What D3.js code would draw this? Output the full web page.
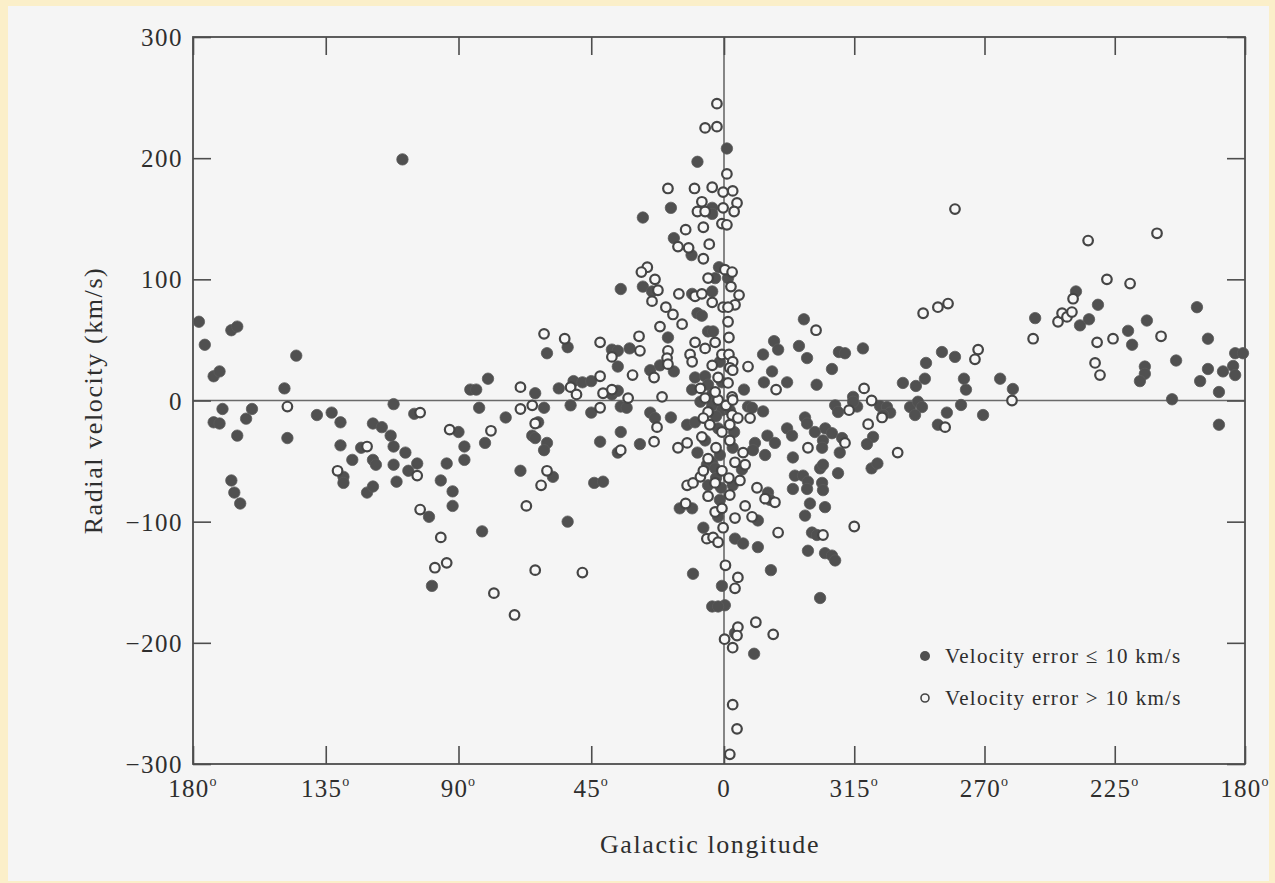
<!DOCTYPE html>
<html lang="en">
<head>
<meta charset="UTF-8">
<title>Radial velocity vs galactic longitude</title>
<script src="https://d3js.org/d3.v7.min.js"></script>
<style>
  body { margin: 0; background: #fbefc9; }
  svg { display: block; }
</style>
</head>
<body>
<svg></svg>
<script>
// longitude in degrees, negatives are 360 - l (right half of the plot)
const lonTicks = [180, 135, 90, 45, 0, -45, -90, -135, -180];
const lonLabels = ["180", "135", "90", "45", "0", "315", "270", "225", "180"];
const velTicks = [300, 200, 100, 0, -100, -200, -300];

// velocity error <= 10 km/s  [longitude, velocity]
const solid = [
  [178,65],[167,58],[165,61],[176,46],[173,20],[171,24],[145,37],[149,10],[170,-7],[160,-7],[173,-18],[171,-19],
  [162,-15],[165,-29],[148,-31],[138,-12],[133,-10],[130,-18],[112,-3],[105,-11],[119,-19],[116,-22],[113,-29],
  [130,-37],[123,-39],[126,-49],[119,-49],[118,-53],[112,-38],[112,-53],[108,-43],[107,-58],[104,-52],[111,-67],
  [129,-63],[129,-68],[121,-76],[119,-71],[167,-66],[166,-76],[164,-85],[90,-26],[94,-52],[96,-66],[92,-75],
  [92,-87],[100,-96],[99,-153],[109,199],
  [35,92],[53,44],[38,42],[60,39],[36,28],[80,18],[86,9],[84,9],[64,6],[56,10],[51,16],[48,15],[45,16],[38,5],
  [83,-6],[61,-6],[52,-4],[45,-10],[35,-5],[74,-14],[63,-18],[65,-29],[64,-31],[60,-35],[61,-41],[81,-35],
  [88,-38],[88,-49],[42,-34],[35,-26],[36,-43],[69,-58],[58,-63],[44,-68],[41,-67],[82,-108],[53,-100],
  [-1,208],[9,197],[18,159],[4,159],[4,154],[27.5,151],[17,134],[11,120],[1.7,110],[27.5,94],[24.4,90],
  [10.8,88],[3,101],[4,90],[9,72],[7.5,70],[19,52],[5.4,57],[3.7,57],[32,43],[36,41],[25,25],[21.7,29],
  [17,24],[9.8,19],[6.4,20],[1.4,32],[36,8],
  [-1.4,101],[-27.6,67],[-17.3,49],[-18.7,42],[-25.9,45],[-13.5,38],[-28.7,35],[-39.7,40],[-16.6,24],
  [-13.8,15],[-21.8,15],[-32,13],[-37.3,26],[-6.9,9],
  [8,-1],[4,-4],[0.7,-8],[2.7,-13],[12.5,-20],[9.8,-18],[-2,-8],[-8.3,-5],[-9.7,-6],[-13.5,-9],[-28,-14],
  [-28.7,-19],[-38.4,-4],[-39.4,-9.5],[-15,-29],[-17.6,-35],[-21.8,-23],[-23.5,-29],[-31.4,-26],[-35,-23],
  [-37.3,-27],[-34.2,-33],[-33.9,-39],[-40.8,-31],[-40,-43],[-10.7,-35],[-10,-41],[-14.2,-45],[-23.8,-47],
  [-33.2,-56],[-34.2,-53],[-39.4,-60],[-24.5,-62],[-27.3,-62],[-29,-67],[-23.8,-73],[-28.7,-73],[-33.9,-68],
  [-34.2,-74],[-15.2,-76],[-15.9,-82],[-11.7,-99],[-29.7,-85],[-34.9,-88],[-28,-95],[-30.4,-109],[-32.1,-111],
  [-3.8,-114],[-6.6,-118],[-11.7,-121],[-29,-124],[-34.9,-126],[-37.3,-128],[-38.4,-132],[-16.2,-140],
  [-33.2,-163],[-0.3,-169],[-3.8,-192],[-10.4,-209],
  [33,-6],[25,-10],[23.4,-14.5],[18,-14],[28.5,-36],[9,-43],[5.8,-53],[4,-51],[3,-56],[5.4,-70],[1,-72],
  [15,-89],[10.8,-89],[2,-96],[7,-105],[10.5,-143],[0.7,-153],[4,-170],[2,-170],
  [10.8,9],[5.4,13],[0.7,15],[4,5],[2,-23],[6.4,-33],[1.4,-45],[2.7,-64],[1.4,-82],[-3.5,-26],[-3,-39],
  [-3,-70],[-6.2,-57],
  [-107.5,68],[-41.8,39],[-48,43],[-75.3,40],[-79.8,36],[-69.8,31],[-61.8,14.5],[-66.3,12],[-69.4,18],
  [-82.9,18],[-83.6,9],[-95.4,18],[-99.8,9.5],[-44.6,3],[-46,-5],[-44.6,-1],[-53.9,-4.6],[-56.3,-5.4],
  [-57.4,-10],[-55,-12],[-64.3,-5.4],[-67,-1],[-68.4,-5.4],[-66,-12],[-81.9,-3.7],[-77,-10],[-89.5,-12],
  [-73.9,-20],[-51.5,-30],[-49.4,-36],[-51,-56],[-53,-52],
  [-121.6,90],[-129.2,79],[-123,62],[-126.1,67],[-163.4,77],[-146.1,66],[-139.6,57.5],[-141,46],[-167.2,51],
  [-145.4,28],[-145.4,22],[-143.7,16],[-156.2,33],[-167.2,26],[-164.5,16],[-172.4,24],[-176.6,39],
  [-179.3,39],[-175.9,28.5],[-176.6,21],[-171,7],[-154.8,1],[-171,-20]
];

// velocity error > 10 km/s
const hollow = [
  [148,-5],[103,-10],[121,-38],[104,-62],[131,-58],[93,-24],[103,-90],[96,-113],[98,-138],[94,-134],
  [61,55],[54,51],[42,48],[38,36],[69,11],[52,11],[42,20],[50,5],[41,6],[38,9],[69,-7],[65,-4],[42,-6],
  [79,-25],[64,-19],[35,-41],[60,-58],[62,-70],[67,-87],[64,-140],[48,-142],[78,-159],[71,-177],
  [2.4,245],[6.4,225],[2.4,226],[-1,187],[19,175],[10,175],[4,176],[0.3,172],[7.5,164],[9,156],[6.4,156],
  [0.3,159],[0.7,146],[13,141],[7,143],[15.6,127],[12,126],[5,129],[7,117],[26,110],[28,106],[-0.3,108],
  [23.4,100],[22.4,91],[24.4,82],[15.3,88],[9.8,86],[7.5,88],[5.4,101],[4,81],[0.3,77],[19.7,77],[17.3,71],
  [14.2,63],[21.7,61],[28.8,53],[9.8,48],[6.4,43],[28.5,41],[19,41],[19.3,35],[3,48],[31,21],[23.7,19],
  [19,30],[11.5,38],[10.8,32],[4,29],[0.7,38],[32.5,2],[21,3],
  [-3,173],[-4.5,163],[-3.5,156],[-1,145],[-2.8,106],[-2.4,94],[-5.2,87],[-3.8,79],[-1.4,77],[-1.4,65],
  [-1.7,52],[-31.8,58],[-1.7,38],[-3,32],[-2,27],[-3,25],[-8.3,28],[-18,9],[-1.4,14.5],[-2.8,3],
  [6.4,2],[2,0.4],[5.4,-9.5],[7,-14.5],[-0.7,-4],[-3,0.4],[-2.8,-12],[-4.8,-14.5],[-9,-14.5],[-29,-39],
  [-6.6,-43],[-7.3,-53],[-3.8,-51],[-11.4,-72],[-17.6,-84],[-14.2,-81],[-7.3,-87],[-9.7,-96],[-3.8,-97],
  [-18.7,-109],[-34.2,-111],[-4.8,-146],[-3.8,-155],[-0.5,-136],[-11,-183],[-4.8,-187],[-4.5,-194],
  [-17,-193],[-3,-204],[-3,-251],[-4.5,-271],[-2,-292],
  [22.7,-22],[23.7,-34],[15.6,-39],[12.5,-35],[7.5,-30],[12.5,-70],[10.5,-68],[8,-63],[3,-68],[13,-85],
  [3,-92],[0.7,-89],[5.8,-114],[3.7,-113],[2,-117],[0.3,-105],[-0.2,-197],
  [8,10],[3,7],[2,19],[4.8,-20],[0.7,-26],[2.7,-39],[5.4,-48],[0.7,-58],[5.4,-79],[7,-58],[-2,-20],
  [-2,-33],[-1.7,-64],[-2,-78],[-5.5,-66],
  [-68.8,72],[-73.9,77],[-77.4,80],[-79.8,158],[-115.4,65],[-106.8,51],[-87.8,42],[-86.7,34],[-48.4,10],
  [-51,0],[-43.2,-8],[-54.6,-14],[-99.5,0],[-76.4,-22],[-49.8,-19.5],[-41.8,-35],[-60,-43],[-45,-104],
  [-125.8,132],[-149.6,138],[-132.3,100],[-140.3,96.5],[-120.6,84],[-116.8,72],[-118.5,69],[-120.2,73],
  [-151,53],[-134.4,51],[-128.9,48],[-128.2,31],[-129.9,21]
];

const W = 1275, H = 883;
const ink = "#4d4d4d";
const textInk = "#2e2e2e";
const font = "'Liberation Serif', 'DejaVu Serif', serif";

const svg = d3.select("svg").attr("width", W).attr("height", H)
  .style("font-family", font);

// scanned page: cream edge, grey paper
svg.append("rect").attr("width", W).attr("height", H).attr("fill", "#fbefc9");
svg.append("rect").attr("x", 8).attr("y", 6).attr("width", W - 14).attr("height", H - 8)
  .attr("fill", "#f5f5f5");

const x = d3.scaleLinear().domain([180, 0, -180]).range([193, 724, 1245]);
const y = d3.scaleLinear().domain([-300, 300]).range([764, 37]);

const g = svg.append("g");

// zero lines
g.append("line").attr("x1", x(180)).attr("x2", x(-180)).attr("y1", y(0)).attr("y2", y(0))
  .attr("stroke", "#6a6a6a").attr("stroke-width", 1.6);
g.append("line").attr("x1", x(0)).attr("x2", x(0)).attr("y1", y(300)).attr("y2", y(-300))
  .attr("stroke", "#6a6a6a").attr("stroke-width", 1.6);

// axes, ticks pointing inward
const tk = 18;
const yLeft = g.append("g").attr("transform", `translate(${x(180)},0)`)
  .call(d3.axisLeft(y).tickValues(velTicks).tickSize(-tk).tickPadding(10)
    .tickFormat(d => d < 0 ? "\u2212" + Math.abs(d) : d));
const yRight = g.append("g").attr("transform", `translate(${x(-180)},0)`)
  .call(d3.axisRight(y).tickValues(velTicks).tickSize(-tk).tickFormat(""));
const xBottom = g.append("g").attr("transform", `translate(0,${y(-300)})`)
  .call(d3.axisBottom(x).tickValues(lonTicks).tickSize(-tk).tickFormat(""));
const xTop = g.append("g").attr("transform", `translate(0,${y(300)})`)
  .call(d3.axisTop(x).tickValues(lonTicks).tickSize(-tk).tickFormat(""));

[yLeft, yRight, xBottom, xTop].forEach(a => {
  a.select(".domain").remove();
  a.selectAll(".tick line").attr("stroke", ink).attr("stroke-width", 1.6);
});
yLeft.selectAll(".tick text").attr("font-size", 25).attr("letter-spacing", 1.5)
  .attr("fill", textInk).attr("font-family", font).attr("dy", "0.34em");

// longitude labels with small raised degree sign
const xl = g.append("g");
lonTicks.forEach((d, i) => {
  const t = xl.append("text").attr("x", x(d)).attr("y", 797)
    .attr("text-anchor", "middle").attr("font-size", 25).attr("letter-spacing", 1.2)
    .attr("fill", textInk);
  t.append("tspan").text(lonLabels[i]);
  if (lonLabels[i] !== "0") {
    t.append("tspan").attr("font-size", 14).attr("dy", -11).text("o");
  }
});

// frame
g.append("rect").attr("x", x(180)).attr("y", y(300))
  .attr("width", x(-180) - x(180)).attr("height", y(-300) - y(300))
  .attr("fill", "none").attr("stroke", ink).attr("stroke-width", 1.8);

// points
g.append("g").selectAll("circle").data(solid).join("circle")
  .attr("cx", d => x(d[0])).attr("cy", d => y(d[1])).attr("r", 5.7)
  .attr("fill", "#505050").attr("stroke", "#5a5a5a").attr("stroke-width", 0.8);
g.append("g").selectAll("circle").data(hollow).join("circle")
  .attr("cx", d => x(d[0])).attr("cy", d => y(d[1])).attr("r", 4.8)
  .attr("fill", "#f7f7f7").attr("stroke", "#454545").attr("stroke-width", 2.2);

// axis titles
svg.append("text").attr("transform", `translate(102,${y(0)}) rotate(-90)`)
  .attr("text-anchor", "middle").attr("font-size", 26).attr("letter-spacing", 1.6)
  .attr("fill", textInk).text("Radial velocity (km/s)");
svg.append("text").attr("x", 710).attr("y", 853)
  .attr("text-anchor", "middle").attr("font-size", 26).attr("letter-spacing", 1.6)
  .attr("fill", textInk).text("Galactic longitude");

// legend
const legend = svg.append("g").attr("font-size", 21).attr("letter-spacing", 1.3).attr("fill", textInk);
legend.append("circle").attr("cx", 925).attr("cy", 656).attr("r", 5).attr("fill", "#505050");
legend.append("text").attr("x", 945).attr("y", 663).text("Velocity error \u2264 10 km/s");
legend.append("circle").attr("cx", 925).attr("cy", 698).attr("r", 4)
  .attr("fill", "none").attr("stroke", "#454545").attr("stroke-width", 1.6);
legend.append("text").attr("x", 945).attr("y", 705).text("Velocity error > 10 km/s");
</script>
</body>
</html>
